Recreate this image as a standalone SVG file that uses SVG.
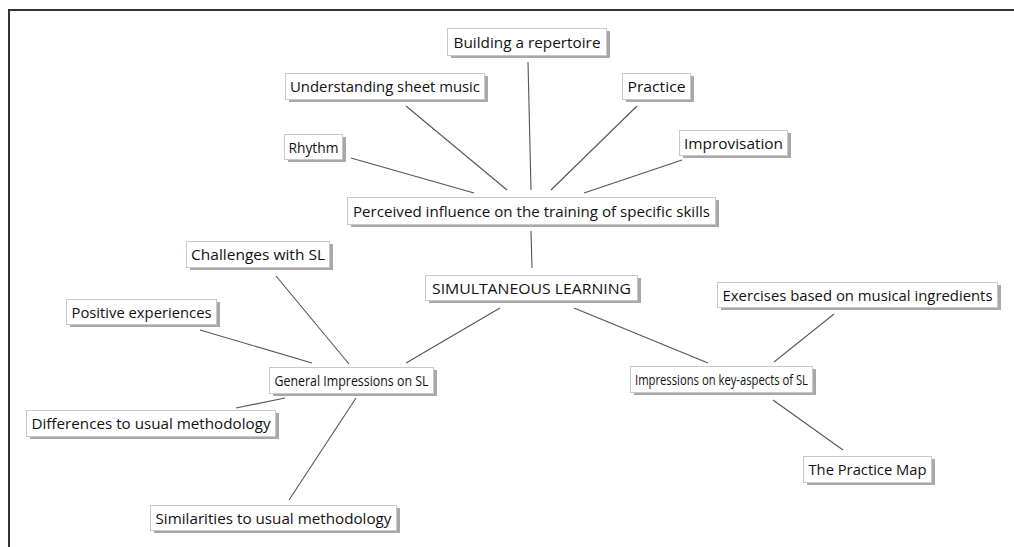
<svg xmlns="http://www.w3.org/2000/svg" width="1014" height="547" viewBox="0 0 1014 547">
<style>
.sh{fill:#a8a8a8}
.bx{fill:#fff;stroke:#c8c8c8;stroke-width:1}
.t{font-family:"Open Sans","Noto Sans",sans-serif;font-size:15px;fill:#111;text-anchor:middle}
.c line{stroke:#555;stroke-width:1.1}
</style>
<rect width="1014" height="547" fill="#fff"/>
<path d="M9,547 V10 H1014" fill="none" stroke="#333" stroke-width="2"/>
<g class="c" id="connectors">
<line x1="528" y1="62" x2="531" y2="190"/>
<line x1="406" y1="106" x2="507" y2="190"/>
<line x1="637" y1="106" x2="551" y2="190"/>
<line x1="351" y1="158" x2="474" y2="193"/>
<line x1="682" y1="160" x2="584" y2="193"/>
<line x1="531" y1="231" x2="532" y2="268"/>
<line x1="500" y1="308" x2="406" y2="363"/>
<line x1="574" y1="308" x2="708" y2="363"/>
<line x1="276" y1="276" x2="349" y2="364"/>
<line x1="200" y1="330" x2="312" y2="363"/>
<line x1="285" y1="398" x2="236" y2="408"/>
<line x1="356" y1="398" x2="289" y2="500"/>
<line x1="834" y1="314" x2="774" y2="362"/>
<line x1="773" y1="400" x2="843" y2="450"/>
</g>
<g id="n-building"><rect class="sh" x="451" y="31" width="159" height="27"/><rect class="bx" x="447.5" y="28.5" width="159" height="27"/><text class="t" x="527" y="47.5" textLength="147" lengthAdjust="spacingAndGlyphs">Building a repertoire</text></g>
<g id="n-understanding"><rect class="sh" x="289" y="76" width="199" height="26"/><rect class="bx" x="285.5" y="73.5" width="199" height="26"/><text class="t" x="385" y="92" textLength="190" lengthAdjust="spacingAndGlyphs">Understanding sheet music</text></g>
<g id="n-practice"><rect class="sh" x="626" y="76" width="68" height="26"/><rect class="bx" x="622.5" y="73.5" width="68" height="26"/><text class="t" x="656.5" y="92" textLength="58" lengthAdjust="spacingAndGlyphs">Practice</text></g>
<g id="n-rhythm"><rect class="sh" x="288" y="137" width="58" height="25"/><rect class="bx" x="284.5" y="134.5" width="58" height="25"/><text class="t" x="313.5" y="152.5" textLength="50" lengthAdjust="spacingAndGlyphs">Rhythm</text></g>
<g id="n-improvisation"><rect class="sh" x="683" y="133" width="108" height="25"/><rect class="bx" x="679.5" y="130.5" width="108" height="25"/><text class="t" x="733.5" y="148.5" textLength="99" lengthAdjust="spacingAndGlyphs">Improvisation</text></g>
<g id="n-perceived"><rect class="sh" x="351" y="200" width="368" height="27"/><rect class="bx" x="347.5" y="197.5" width="368" height="27"/><text class="t" x="531.5" y="216.5" textLength="357" lengthAdjust="spacingAndGlyphs">Perceived influence on the training of specific skills</text></g>
<g id="n-sl"><rect class="sh" x="429" y="278" width="212" height="25"/><rect class="bx" x="425.5" y="275.5" width="212" height="25"/><text class="t" x="531.5" y="293.5" textLength="199" lengthAdjust="spacingAndGlyphs">SIMULTANEOUS LEARNING</text></g>
<g id="n-challenges"><rect class="sh" x="190" y="244" width="143" height="26"/><rect class="bx" x="186.5" y="241.5" width="143" height="26"/><text class="t" x="258" y="260" textLength="134" lengthAdjust="spacingAndGlyphs">Challenges with SL</text></g>
<g id="n-positive"><rect class="sh" x="70" y="302" width="150" height="25"/><rect class="bx" x="66.5" y="299.5" width="150" height="25"/><text class="t" x="141.5" y="317.5" textLength="140" lengthAdjust="spacingAndGlyphs">Positive experiences</text></g>
<g id="n-general"><rect class="sh" x="273" y="370" width="164" height="26"/><rect class="bx" x="269.5" y="367.5" width="164" height="26"/><text class="t" x="351.5" y="386" textLength="154" lengthAdjust="spacingAndGlyphs">General Impressions on SL</text></g>
<g id="n-differences"><rect class="sh" x="30" y="413" width="249" height="26"/><rect class="bx" x="26.5" y="410.5" width="249" height="26"/><text class="t" x="151" y="429" textLength="239" lengthAdjust="spacingAndGlyphs">Differences to usual methodology</text></g>
<g id="n-similarities"><rect class="sh" x="154" y="508" width="246" height="25"/><rect class="bx" x="150.5" y="505.5" width="246" height="25"/><text class="t" x="273.5" y="523.5" textLength="236" lengthAdjust="spacingAndGlyphs">Similarities to usual methodology</text></g>
<g id="n-exercises"><rect class="sh" x="721" y="285" width="280" height="25"/><rect class="bx" x="717.5" y="282.5" width="280" height="25"/><text class="t" x="857.5" y="300.5" textLength="270" lengthAdjust="spacingAndGlyphs">Exercises based on musical ingredients</text></g>
<g id="n-keyaspects"><rect class="sh" x="634" y="369" width="182" height="26"/><rect class="bx" x="630.5" y="366.5" width="182" height="26"/><text class="t" x="721.5" y="385" textLength="173" lengthAdjust="spacingAndGlyphs">Impressions on key-aspects of SL</text></g>
<g id="n-practicemap"><rect class="sh" x="807" y="459" width="128" height="26"/><rect class="bx" x="803.5" y="456.5" width="128" height="26"/><text class="t" x="867.5" y="475" textLength="118" lengthAdjust="spacingAndGlyphs">The Practice Map</text></g>
</svg>
